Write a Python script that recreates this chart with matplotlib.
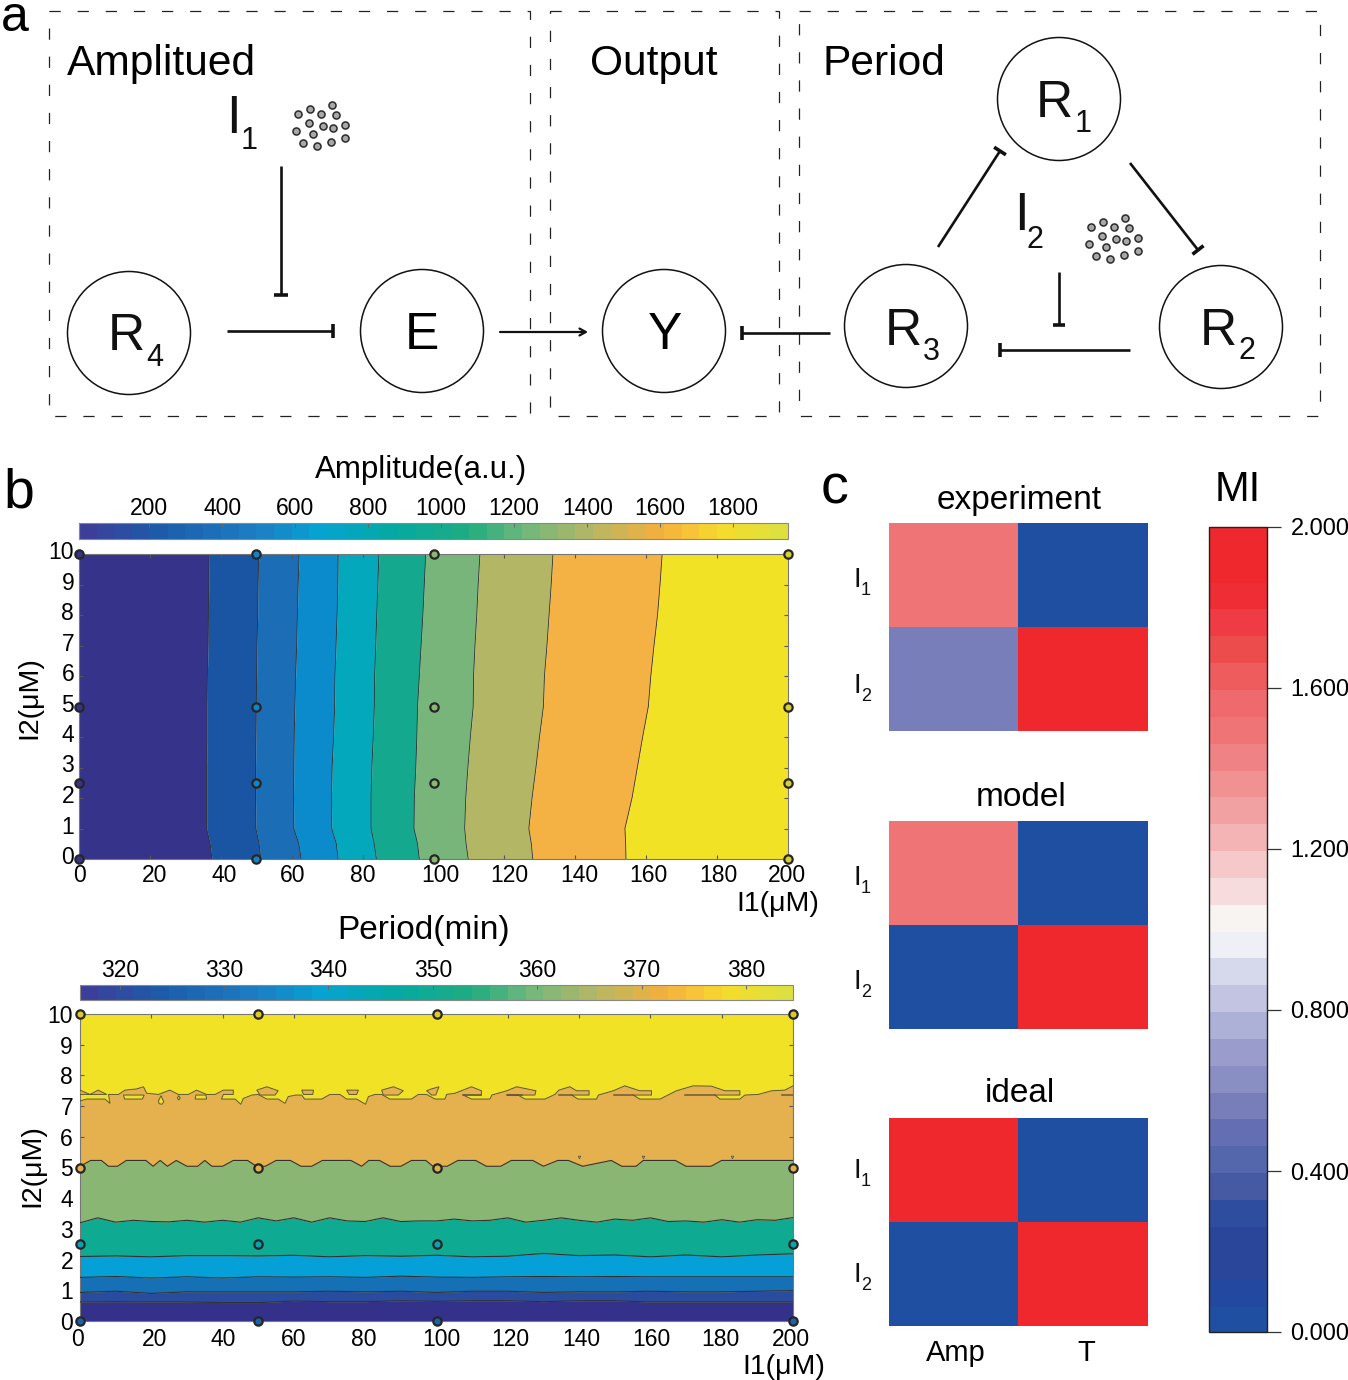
import numpy as np
import matplotlib
matplotlib.use('Agg')
import matplotlib.pyplot as plt
from matplotlib.cm import ScalarMappable
from matplotlib.colors import BoundaryNorm, LinearSegmentedColormap, ListedColormap, Normalize
from matplotlib.patches import Circle, Rectangle
from matplotlib.transforms import ScaledTranslation

plt.rcParams['font.family'] = ['Liberation Sans', 'DejaVu Sans']

# amplitude contour: I1 position of each band edge at the I2 levels
amp_i2 = [0, 0.5, 1, 2, 3, 4, 5, 6, 7, 8, 9, 10]
amp_edges = [
    [37.5, 37, 36, 36, 36, 36.1, 36.1, 36.2, 36.4, 36.5, 36.6, 36.7],
    [51.3, 50.8, 49.9, 49.8, 49.8, 49.9, 50, 50.1, 50.2, 50.4, 50.5, 50.7],
    [62.7, 62, 60.6, 60.5, 60.6, 60.7, 60.9, 61.1, 61.4, 61.6, 61.8, 62.1],
    [73.1, 72.6, 71.3, 71.2, 71.4, 71.8, 72.1, 72.2, 72.5, 72.8, 73, 73.1],
    [83.9, 83.3, 82.4, 82.4, 82.6, 83, 83.3, 83.4, 83.7, 84, 84.3, 84.6],
    [96, 95.5, 94.5, 94.6, 95, 95.3, 95.5, 96, 96.5, 97, 97.4, 97.8],
    [109.8, 109.2, 108.8, 109.1, 109.7, 110.4, 111.2, 111.3, 111.7, 112.2, 112.6, 113.1],
    [128, 127.6, 126.9, 127.8, 128.9, 129.9, 131, 131.3, 132, 132.6, 133.2, 133.7],
    [154.3, 154.2, 154, 156, 157.5, 159, 160.6, 161.3, 162.2, 163.2, 163.9, 164.5],
]
amp_colors = ['#35348a', '#1a55a4', '#1b6db6', '#0c8bcc', '#04a8bc', '#14a98e',
              '#78b57b', '#b3b765', '#f5b244', '#f2e226']

# period contour: I2 position of each band edge along I1
per_x10 = np.arange(0, 201, 10)
per_edge1 = [.62, .63, .62, .62, .60, .60, .65, .63, .63, .66, .64, .66, .66, .63, .66, .66, .62, .62, .62, .62, .62]
per_edge2 = [.93, .97, .90, .95, .95, .95, .95, .97, .95, .97, .93, .97, .97, .93, .95, .95, .97, .95, .95, .97, .99]
per_edge3 = [1.42, 1.45, 1.40, 1.44, 1.40, 1.44, 1.43, 1.44, 1.42, 1.46, 1.43, 1.42, 1.44, 1.45, 1.44, 1.45, 1.44, 1.44, 1.44, 1.44, 1.44]
per_edge4 = [2.10, 2.12, 2.09, 2.13, 2.13, 2.12, 2.14, 2.09, 2.13, 2.11, 2.14, 2.09, 2.11, 2.20, 2.13, 2.15, 2.09, 2.15, 2.09, 2.15, 2.19]
per_x5 = np.arange(0, 201, 5)
per_edge5 = [3.20, 3.36, 3.22, 3.28, 3.24, 3.23, 3.28, 3.22, 3.28, 3.22, 3.36, 3.26, 3.36,
             3.22, 3.36, 3.26, 3.24, 3.36, 3.24, 3.26, 3.26, 3.32, 3.26, 3.28, 3.36, 3.22,
             3.28, 3.36, 3.28, 3.22, 3.32, 3.28, 3.36, 3.24, 3.26, 3.22, 3.30, 3.22, 3.30, 3.28, 3.37]
per_edge6_x = [0, 3, 6, 8, 10.5, 13, 18.5, 20.5, 22.5, 24.5, 27, 30, 33, 35, 37, 40, 43, 47, 49.5, 52,
               55, 59, 62, 65, 68, 76, 79, 81, 84, 87, 90, 93, 97, 99, 103, 106, 111, 114, 118, 121,
               127, 130, 134, 137, 141, 149, 152, 156, 158, 167, 170, 177, 180, 183, 188, 195, 198, 200]
per_edge6 = [5.04, 5.23, 5.23, 5.04, 5.04, 5.23, 5.23, 5.04, 5.23, 5.04, 5.23, 5.04, 5.04, 5.23, 5.04, 5.04,
             5.23, 5.23, 5.04, 5.04, 5.23, 5.23, 5.04, 5.04, 5.23, 5.23, 5.04, 5.23, 5.23, 5.04, 5.04, 5.23,
             5.23, 5.04, 5.04, 5.23, 5.23, 5.04, 5.04, 5.23, 5.23, 5.04, 5.23, 5.23, 5.04, 5.23, 5.04, 5.04,
             5.23, 5.23, 5.04, 5.04, 5.23, 5.23, 5.23, 5.23, 5.23, 5.23]
# top edge of the orange band, it folds back on itself in places
per_edge7_x = [0, 1.9, 7, 8.4, 8, 10.8, 12.6, 15.9, 17.8, 18.7, 22, 25.2, 27.6, 30.4, 32.7, 35.5, 37.9, 40.2, 43, 43,
               40.2, 39.7, 43.5, 45.1, 45.8, 48.2, 50, 52.4, 55.6, 57.5, 58.4, 60.5, 62.2, 63, 67.8, 70.1, 72.9, 74.8,
               77.6, 80.1, 80.9, 82.7, 84.6, 86.9, 93, 94.9, 97.2, 99.6, 102.4, 102.8, 105.2, 109.8, 112.6, 112.6,
               107.5, 109.8, 115, 115.5, 119.7, 122.5, 127.9, 127.6, 119.9, 122.9, 124.8, 130.4, 133.2, 134.3, 137.4,
               139.3, 142.8, 142.8, 137.9, 139.7, 144.9, 145.4, 149.6, 152.8, 157, 160.3, 160.3, 155.2, 157, 162.7,
               167.3, 172, 177.1, 180.9, 185.1, 185.1, 178.1, 179.5, 185.1, 186.5, 190.2, 194, 197.7, 200]
per_edge7 = [7.17, 7.23, 7.23, 7.09, 7.38, 7.38, 7.52, 7.56, 7.63, 7.42, 7.38, 7.52, 7.38, 7.38, 7.52, 7.38, 7.38, 7.52, 7.52, 7.38,
             7.38, 7.23, 7.23, 7.06, 7.25, 7.36, 7.38, 7.23, 7.23, 7.09, 7.31, 7.36, 7.36, 7.23, 7.23, 7.38, 7.38, 7.23,
             7.23, 7.06, 7.31, 7.38, 7.38, 7.23, 7.23, 7.38, 7.38, 7.23, 7.23, 7.38, 7.42, 7.63, 7.50, 7.36,
             7.36, 7.23, 7.23, 7.36, 7.50, 7.63, 7.50, 7.36, 7.36, 7.36, 7.23, 7.23, 7.38, 7.52, 7.63,
             7.50, 7.50, 7.36, 7.36, 7.23, 7.23, 7.36, 7.50, 7.66, 7.50, 7.50, 7.36, 7.36, 7.23, 7.23,
             7.50, 7.66, 7.65, 7.50, 7.50, 7.36, 7.36, 7.23, 7.23, 7.36, 7.38, 7.50, 7.52, 7.66]
yellow_islands_x = [[12.2, 18, 17.5, 12.5], [22.7, 23.5, 23, 22.2, 22], [27.7, 28.1, 27.7, 27.3], [32.5, 35.3, 35.5, 32.3]]
yellow_islands_y = [[7.36, 7.36, 7.23, 7.23], [7.34, 7.14, 7.06, 7.08, 7.16], [7.34, 7.26, 7.20, 7.26], [7.36, 7.36, 7.23, 7.23]]
orange_islands_x = [[0, 2.8, 5.1, 7.5, 0], [49.6, 52.4, 55.6, 54.7, 50.5], [62.2, 65.5, 65.3, 62.7], [74.8, 78.1, 77.6, 75.5],
                    [84.6, 87.9, 90.7, 89.3, 85.1], [97.2, 98.6, 100.7, 99.8, 98.6]]
orange_islands_y = [[7.52, 7.38, 7.52, 7.38, 7.38], [7.52, 7.63, 7.50, 7.36, 7.36], [7.52, 7.52, 7.38, 7.38], [7.52, 7.52, 7.38, 7.38],
                    [7.52, 7.63, 7.50, 7.36, 7.36], [7.50, 7.56, 7.63, 7.36, 7.36]]
per_dash_x = [[107.5, 112.6], [119.9, 124], [134.5, 137.9], [149.9, 155.2], [169.8, 178.1], [197, 200]]
per_dash_y = 7.37
per_speck_x = [140, 157.8, 183]
per_speck_y = [5.35, 5.35, 5.35]
per_colors = ['#33318a', '#2a4c9f', '#1570b6', '#04a0d7', '#0eaa91', '#8ab674', '#e5b04e', '#f2e226']

# measured points on the contour plots
dot_i1 = [0, 50, 100, 200]
dot_i2 = [0, 2.5, 5, 10]
amp_dot_colors = ['#35348a', '#1483c6', '#8cb574', '#d8d030']
per_dot_colors = ['#1b62ad', '#0ea0b0', '#dfb050', '#dcc92c']

parula_pos = [0, .097, .246, .336, .448, .552, .634, .724, .821, .851, .918, 1]
parula_hex = ['#3c3f99', '#1d5aa8', '#1c7fc4', '#05a3d2', '#04aaa0', '#20ac80',
              '#70b87c', '#b3b765', '#f0b040', '#f7b93a', '#f5dc2c', '#dde03e']

amp_cb_range = [8, 1950]
amp_cb_ticks = [200, 400, 600, 800, 1000, 1200, 1400, 1600, 1800]
per_cb_range = [316.2, 384.5]
per_cb_ticks = [320, 330, 340, 350, 360, 370, 380]

x_ticks = list(range(0, 201, 20))
y_ticks = list(range(0, 11))
# tick labels sit a few pixels off their ticks in the figure
amp_x_shift = [0, 5, 3, 1, 0, 6.5, 5, 4, 2, 1, -1]
per_x_shift = [-3, 3, 1, 0, -1, 4.5, 3, 2, 1, -1, -2]

# panel c
mi_cols = ['Amp', 'T']
mi_rows = ['1', '2']
mi_titles = ['experiment', 'model', 'ideal']
mi_experiment = [[1.5, 0], [0.57, 2]]
mi_model = [[1.5, 0], [0, 2]]
mi_ideal = [[2, 0], [0, 2]]
mi_ticks = [0, 0.4, 0.8, 1.2, 1.6, 2.0]
mi_hex = ['#ee282d', '#ee282d', '#ee2d35', '#ef3b43', '#ec4c4c', '#ef5c5d', '#ee6a6c', '#ef7476',
          '#ef8284', '#f09192', '#f2a1a3', '#f4b4b5', '#f5c8c9', '#f6dcdc', '#f8f4f1', '#eff0f6',
          '#d6d8ec', '#c3c4e1', '#aeb1d7', '#9a9dcc', '#8a8fc3', '#777eb9', '#636fb2', '#5466ac',
          '#4659a3', '#2f4d9f', '#2a469b', '#2a469b', '#22499f', '#1e4fa1'][::-1]

# inhibitor dots, second cluster is the first one moved
dots_x = [297.7, 310, 321, 332, 335.7, 309.3, 322.7, 332.7, 345, 296, 313.3, 345, 331, 303.3, 317]
dots_y = [114.3, 109, 113.7, 105, 115.3, 123.3, 126, 128.3, 125, 131, 134.3, 137.7, 141.7, 143.3, 145.7]

W, H = 1348, 1380
fig = plt.figure(figsize=(W / 100, H / 100), dpi=100)


def px_axes(x0, y0, x1, y1):
    return fig.add_axes([x0 / W, 1 - y1 / H, (x1 - x0) / W, (y1 - y0) / H])


# overlay in pixel coordinates for the schematic and the loose labels
bg = fig.add_axes([0, 0, 1, 1], zorder=5)
bg.set_xlim(0, W)
bg.set_ylim(H, 0)
bg.axis('off')
bg.patch.set_alpha(0)


def sub_label(x, y, main, sub, size, subsize, dx, dy):
    bg.text(x, y, main, fontsize=size, ha='left', va='baseline', color='#111111')
    bg.text(x + dx, y + dy, sub, fontsize=subsize, ha='left', va='baseline', color='#111111')


def t_bar(x0, y0, x1, y1, half=7):
    bg.plot([x0, x1], [y0, y1], color='#111111', lw=1.9, solid_capstyle='butt')
    n = np.array([y1 - y0, x0 - x1], dtype=float)
    n = n / np.hypot(*n) * half
    bg.plot([x1 - n[0], x1 + n[0]], [y1 - n[1], y1 + n[1]], color='#111111', lw=2.6, solid_capstyle='butt')


# panel a
for x0, x1 in [(49, 530), (550, 779), (799, 1320)]:
    bg.add_patch(Rectangle((x0, 11), x1 - x0, 405, fill=False, ec='#222222', lw=0.9, ls=(0, (9, 13.5))))
for cx, cy in [(129, 333), (422, 331), (664, 331), (906, 326), (1221, 327), (1059, 99)]:
    bg.add_patch(Circle((cx, cy), 61.5, fc='white', ec='#111111', lw=1.1))

bg.text(1, 31, 'a', fontsize=36, va='baseline')
bg.text(3, 508, 'b', fontsize=40, va='baseline')
bg.text(821, 503, 'c', fontsize=40, va='baseline')
bg.text(67, 75, 'Amplitued', fontsize=30.6, va='baseline')
bg.text(590, 75, 'Output', fontsize=30.6, va='baseline')
bg.text(823, 75, 'Period', fontsize=30.6, va='baseline')

sub_label(108, 350, 'R', '4', 37, 22, 38, 16)
sub_label(1036, 117, 'R', '1', 37, 22, 39, 15)
sub_label(885, 345, 'R', '3', 37, 22, 38, 15)
sub_label(1200, 345, 'R', '2', 37, 22, 38, 14)
bg.text(405, 349, 'E', fontsize=37, va='baseline')
bg.text(648, 349, 'Y', fontsize=37, va='baseline')
sub_label(226, 133, 'I', '1', 38, 22, 15, 16)
sub_label(1014, 230, 'I', '2', 38, 22, 13, 18)

t_bar(281, 166, 281, 295)
t_bar(227, 331, 333, 331)
t_bar(830, 333, 742, 333)
t_bar(938, 247, 1000, 151)
t_bar(1130, 163, 1198, 250)
t_bar(1059, 272, 1059, 325, half=6)
t_bar(1130, 350, 1000, 350)
bg.annotate('', xy=(588, 332), xytext=(500, 332),
            arrowprops=dict(arrowstyle='->,head_length=0.45,head_width=0.25', color='#111111', lw=1.6, shrinkA=0, shrinkB=0))

for ox, oy in [(0, 0), (793, 113)]:
    bg.scatter(np.array(dots_x) + ox, np.array(dots_y) + oy, s=26, c='#a9a7a9', edgecolors='#2a2a2a', linewidths=1.1)

parula = LinearSegmentedColormap.from_list('parula_like', list(zip(parula_pos, parula_hex)), N=40)


def style_contour(ax, x_shift, y_shift, xpad, ypad):
    ax.set_xticks(x_ticks, [str(v) for v in x_ticks])
    ax.set_yticks(y_ticks, [str(v) for v in y_ticks])
    ax.set_xlim(0, 200)
    ax.set_ylim(0, 10)
    ax.tick_params(direction='in', length=3, width=0.8, color='#555555', top=True, right=True, labelsize=16.5)
    ax.tick_params(axis='x', pad=xpad)
    ax.tick_params(axis='y', pad=ypad)
    for label, dx in zip(ax.get_xticklabels(), x_shift):
        label.set_transform(label.get_transform() + ScaledTranslation(dx / 100, 0, fig.dpi_scale_trans))
    for label in ax.get_yticklabels():
        label.set_transform(label.get_transform() + ScaledTranslation(0, y_shift / 100, fig.dpi_scale_trans))
    for s in ax.spines.values():
        s.set_color('#777777')
        s.set_linewidth(0.8)


def draw_dots(ax, colors_by):
    for j, yv in enumerate(dot_i2):
        for i, xv in enumerate(dot_i1):
            ax.plot(xv, yv, 'o', ms=6, mfc=colors_by(i, j), mec='#262626', mew=1.6, clip_on=False, zorder=10)


def top_colorbar(box, vrange, ticks):
    cax = px_axes(*box)
    sm = ScalarMappable(Normalize(*vrange), parula)
    cb = fig.colorbar(sm, cax=cax, orientation='horizontal', ticks=ticks)
    cb.ax.xaxis.set_ticks_position('top')
    cb.ax.tick_params(direction='in', length=3, width=0.7, color='#666666', labelsize=16.5, pad=2)
    cb.outline.set_edgecolor('#888888')
    cb.outline.set_linewidth(0.8)
    return cb


# panel b, amplitude
ax1 = px_axes(79, 554, 788, 859)
left = [0] * len(amp_i2)
for edge, c in zip(amp_edges + [[200] * len(amp_i2)], amp_colors):
    ax1.fill_betweenx(amp_i2, left, edge, color=c, lw=0)
    left = edge
for edge in amp_edges:
    ax1.plot(edge, amp_i2, color='#333333', lw=0.6)
style_contour(ax1, amp_x_shift, 4, 3.5, 3.5)
draw_dots(ax1, lambda i, j: amp_dot_colors[i])
top_colorbar((79, 523, 788, 539), amp_cb_range, amp_cb_ticks)
bg.text(421, 470, 'Amplitude(a.u.)', fontsize=22.5, ha='center', va='center')
bg.text(29, 698, 'I2(μM)', fontsize=20.5, rotation=90, ha='center', va='center')
bg.text(778, 904, 'I1(μM)', fontsize=20.5, ha='center', va='center')

# panel b, period: orange goes first since its top edge folds, the rest paints over it
ax2 = px_axes(80, 1014, 793, 1321)
ax2.set_facecolor(per_colors[-1])
ax2.fill(list(per_edge7_x) + [200, 0], list(per_edge7) + [0, 0], fc=per_colors[6], ec='none')
ax2.plot(per_edge7_x, per_edge7, color='#5a5a3a', lw=0.7, zorder=3)
for ix, iy in zip(yellow_islands_x, yellow_islands_y):
    ax2.fill(ix, iy, fc=per_colors[-1], ec='#5a5a3a', lw=0.7, zorder=3)
for ix, iy in zip(orange_islands_x, orange_islands_y):
    ax2.fill(ix, iy, fc=per_colors[6], ec='#5a5a3a', lw=0.7, zorder=3)
for dx in per_dash_x:
    ax2.plot(dx, [per_dash_y, per_dash_y], color='#6a5a3a', lw=1.1, zorder=4)
grid = np.linspace(0, 200, 801)
lower = np.zeros_like(grid)
edges_x = [per_x10, per_x10, per_x10, per_x10, per_x5, per_edge6_x]
edges_y = [per_edge1, per_edge2, per_edge3, per_edge4, per_edge5, per_edge6]
for ex, ey, c in zip(edges_x, edges_y, per_colors):
    upper = np.interp(grid, ex, ey)
    ax2.fill_between(grid, lower, upper, color=c, lw=0, zorder=2)
    ax2.plot(ex, ey, color='#333333', lw=0.8, zorder=3)
    lower = upper
ax2.plot(per_speck_x, per_speck_y, 'v', ms=2, mfc=per_colors[5], mec='#444444', mew=0.4, zorder=4)
style_contour(ax2, per_x_shift, 0, 5, 5)
draw_dots(ax2, lambda i, j: per_dot_colors[j])
top_colorbar((80, 985, 793, 1000), per_cb_range, per_cb_ticks)
bg.text(424, 930, 'Period(min)', fontsize=24, ha='center', va='center')
bg.text(32, 1166, 'I2(μM)', fontsize=20.5, rotation=90, ha='center', va='center')
bg.text(784, 1367, 'I1(μM)', fontsize=20.5, ha='center', va='center')

# panel c
mi_cmap = ListedColormap(mi_hex)
mi_norm = BoundaryNorm(np.linspace(0, 2, 31), 30)
mi_tops = [523, 821, 1118]
mi_title_x = [1019, 1021, 1020]
mi_title_y = [501, 798, 1094]
mi_i1_base = [587, 885, 1178]
mi_i2_base = [693, 989, 1282]
for k, vals in enumerate([mi_experiment, mi_model, mi_ideal]):
    top = mi_tops[k]
    ax = px_axes(889, top, 1148, top + 208)
    ax.imshow(vals, cmap=mi_cmap, norm=mi_norm, aspect='auto', interpolation='nearest')
    ax.axis('off')
    bg.text(mi_title_x[k], mi_title_y[k], mi_titles[k], fontsize=24, ha='center', va='center')
    sub_label(854, mi_i1_base[k], 'I', mi_rows[0], 20, 13, 7, 8)
    sub_label(854, mi_i2_base[k], 'I', mi_rows[1], 20, 13, 7, 8)
bg.text(956, 1353, mi_cols[0], fontsize=21, ha='center', va='center')
bg.text(1086, 1353, mi_cols[1], fontsize=21, ha='center', va='center')

cax = px_axes(1209, 527, 1267, 1332)
cb = fig.colorbar(ScalarMappable(mi_norm, mi_cmap), cax=cax, ticks=mi_ticks, spacing='proportional')
cb.ax.minorticks_off()
cb.ax.set_yticklabels(['%.3f' % v for v in mi_ticks])
cb.ax.tick_params(length=10, width=0.9, labelsize=17, pad=7, color='#333333')
cb.outline.set_edgecolor('#222222')
cb.outline.set_linewidth(1)
cb.solids.set_edgecolor('face')
bg.text(1238, 490, 'MI', fontsize=30, ha='center', va='center')

fig.savefig('out.png', dpi=100)
